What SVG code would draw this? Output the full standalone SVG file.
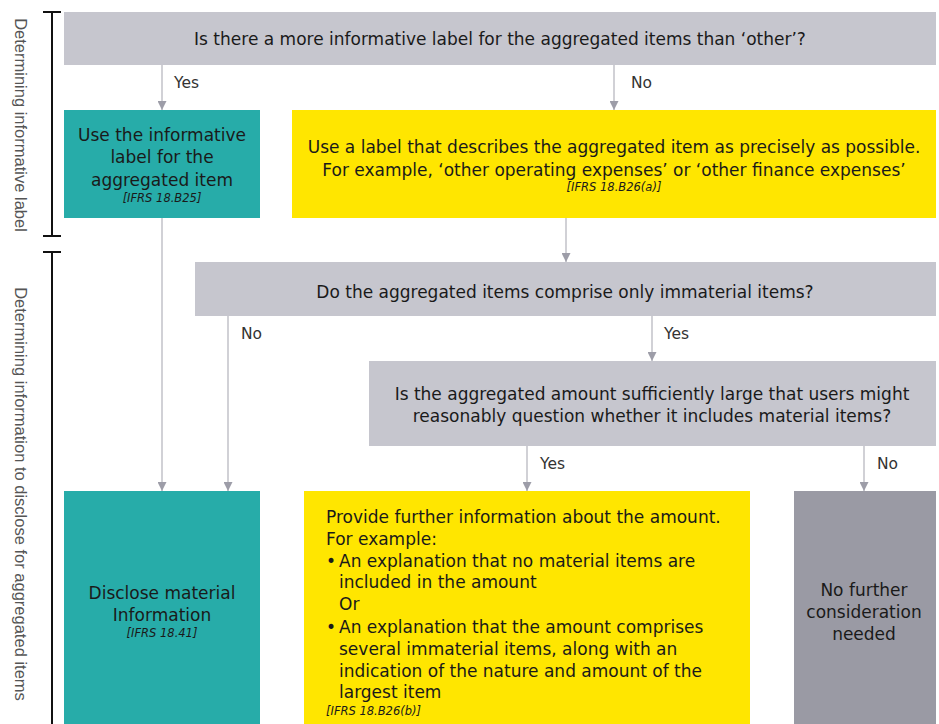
<svg xmlns="http://www.w3.org/2000/svg" width="939" height="724" viewBox="0 0 939 724">
<style>
text{font-family:"DejaVu Sans","Liberation Sans",sans-serif;fill:#1a1a1a}
.m{font-size:17px;text-anchor:middle}
.l{font-size:17px}
.ref{font-size:11.5px;font-style:italic}
.lab{font-size:15.5px;fill:#333}
.side{font-family:"Liberation Sans",Arial,sans-serif;font-size:16.5px;fill:#555;text-anchor:middle}
.q{fill:#c6c6ce}
.t{fill:#27aca9}
.y{fill:#ffe600}
.d{fill:#9a9aa4}
.c{stroke:#c2c2c9;stroke-width:1.5;fill:none}
.br{stroke:#111;stroke-width:2;fill:none}
</style>
<defs>
<marker id="ah" viewBox="0 0 10 10" refX="10" refY="5" markerWidth="9" markerHeight="9" markerUnits="userSpaceOnUse" orient="auto">
<path d="M0,0 L10,5 L0,10 Z" fill="#9d9da8"/>
</marker>
</defs>
<rect width="939" height="724" fill="#ffffff"/>
<g id="brackets">
<path class="br" d="M43,12 H61 M52,12 V236 M43,236 H61"/>
<path class="br" d="M43,252 H61 M52,252 V724"/>
<text class="side" transform="translate(15,125) rotate(90)">Determining informative label</text>
<text class="side" transform="translate(15,494) rotate(90)">Determining information to disclose for aggregated items</text>
</g>
<g id="connectors">
<line class="c" x1="162" y1="65" x2="162" y2="110" marker-end="url(#ah)"/>
<line class="c" x1="614" y1="65" x2="614" y2="110" marker-end="url(#ah)"/>
<line class="c" x1="566" y1="218" x2="566" y2="262" marker-end="url(#ah)"/>
<line class="c" x1="162" y1="218" x2="162" y2="491" marker-end="url(#ah)"/>
<line class="c" x1="228" y1="316" x2="228" y2="491" marker-end="url(#ah)"/>
<line class="c" x1="652" y1="316" x2="652" y2="361" marker-end="url(#ah)"/>
<line class="c" x1="527" y1="446" x2="527" y2="491" marker-end="url(#ah)"/>
<line class="c" x1="864" y1="446" x2="864" y2="491" marker-end="url(#ah)"/>
<text class="lab" x="174" y="88">Yes</text>
<text class="lab" x="631" y="88">No</text>
<text class="lab" x="241" y="339">No</text>
<text class="lab" x="664" y="339">Yes</text>
<text class="lab" x="540" y="469">Yes</text>
<text class="lab" x="877" y="469">No</text>
</g>
<g id="q1">
<rect class="q" x="64" y="12" width="872" height="53"/>
<text class="m" x="500" y="45">Is there a more informative label for the aggregated items than ‘other’?</text>
</g>
<g id="use-informative">
<rect class="t" x="64" y="110" width="196" height="108"/>
<text class="m" x="162" y="141">Use the informative</text>
<text class="m" x="162" y="163">label for the</text>
<text class="m" x="162" y="186">aggregated item</text>
<text class="ref" x="162" y="202" text-anchor="middle">[IFRS 18.B25]</text>
</g>
<g id="use-precise">
<rect class="y" x="292" y="110" width="644" height="108"/>
<text class="m" x="614" y="153">Use a label that describes the aggregated item as precisely as possible.</text>
<text class="m" x="614" y="176">For example, ‘other operating expenses’ or ‘other finance expenses’</text>
<text class="ref" x="614" y="191" text-anchor="middle">[IFRS 18.B26(a)]</text>
</g>
<g id="q2">
<rect class="q" x="195" y="262" width="741" height="54"/>
<text class="m" x="565" y="298">Do the aggregated items comprise only immaterial items?</text>
</g>
<g id="q3">
<rect class="q" x="369" y="361" width="567" height="85"/>
<text class="m" x="652" y="400">Is the aggregated amount sufficiently large that users might</text>
<text class="m" x="652" y="422">reasonably question whether it includes material items?</text>
</g>
<g id="disclose">
<rect class="t" x="64" y="491" width="196" height="233"/>
<text class="m" x="162" y="599">Disclose material</text>
<text class="m" x="162" y="621">Information</text>
<text class="ref" x="162" y="637" text-anchor="middle">[IFRS 18.41]</text>
</g>
<g id="provide-info">
<rect class="y" x="304" y="491" width="446" height="233"/>
<text class="l" x="326" y="523">Provide further information about the amount.</text>
<text class="l" x="326" y="545">For example:</text>
<text class="l" x="326" y="567">•</text>
<text class="l" x="339" y="567">An explanation that no material items are</text>
<text class="l" x="339" y="588">included in the amount</text>
<text class="l" x="339" y="610">Or</text>
<text class="l" x="326" y="633">•</text>
<text class="l" x="339" y="633">An explanation that the amount comprises</text>
<text class="l" x="339" y="655">several immaterial items, along with an</text>
<text class="l" x="339" y="677">indication of the nature and amount of the</text>
<text class="l" x="339" y="698">largest item</text>
<text class="ref" x="326" y="715">[IFRS 18.B26(b)]</text>
</g>
<g id="no-further">
<rect class="d" x="794" y="491" width="142" height="233"/>
<text class="m" x="864" y="596">No further</text>
<text class="m" x="864" y="618">consideration</text>
<text class="m" x="864" y="640">needed</text>
</g>
</svg>
